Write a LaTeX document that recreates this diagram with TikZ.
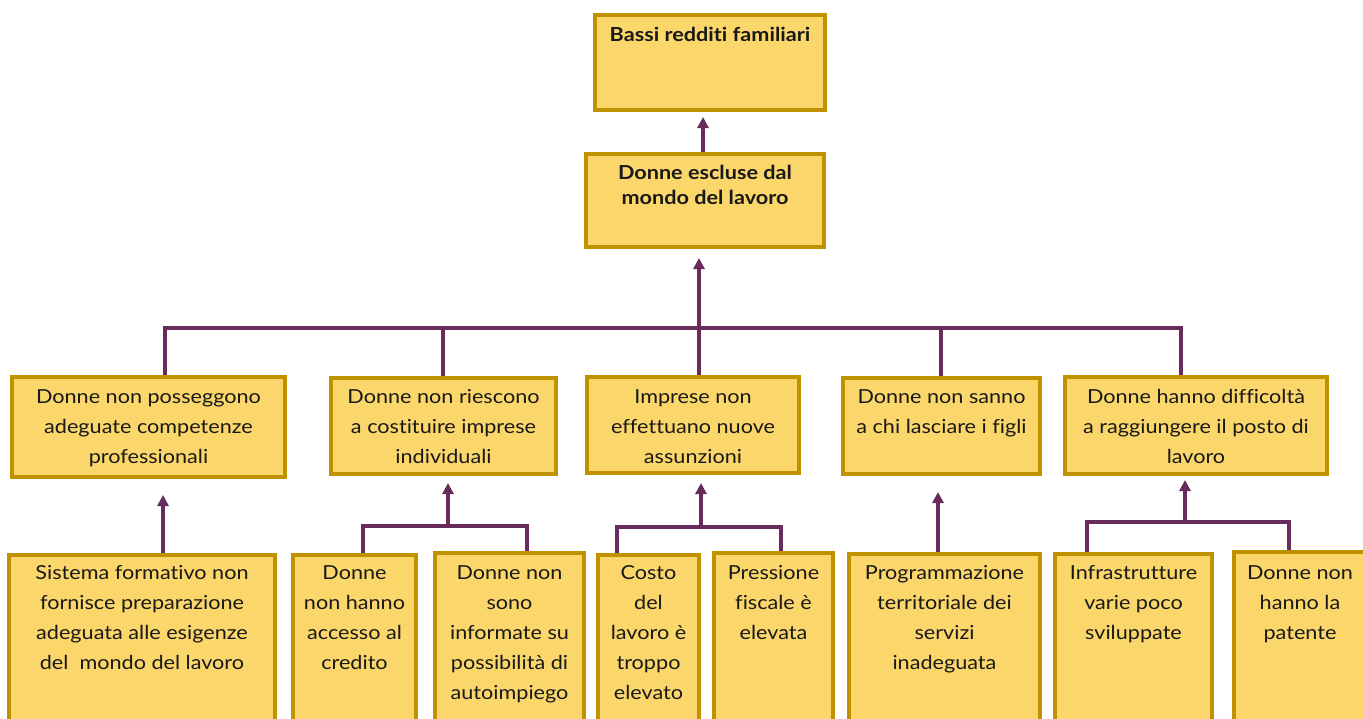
\documentclass[tikz,border=0pt]{standalone}
\usepackage{fontspec}
\setmainfont{Lato}[FakeStretch=1.12,Ligatures=CommonOff]
\usetikzlibrary{arrows.meta}
\definecolor{boxfill}{RGB}{251,214,106}
\definecolor{boxline}{RGB}{192,146,0}
\definecolor{conn}{RGB}{104,44,92}
\definecolor{txt}{RGB}{25,25,25}
\newcommand{\bt}[4]{\parbox[c][#2pt][t]{#1pt}{\centering\vspace*{#3pt}\strut #4\par}}
\begin{document}
\begin{tikzpicture}[x=1pt,y=-1pt,
  box/.style={draw=boxline, fill=boxfill, line width=4pt, inner sep=0pt, outer sep=2pt, text=txt},
  reg/.style={font=\fontsize{19.3}{30}\selectfont},
  bld/.style={font=\fontsize{19.3}{25}\selectfont\bfseries},
  link/.style={draw=conn, line width=3.2pt},
  arr/.style={link, -{Triangle[width=11pt,length=11pt]}}]
\useasboundingbox (0,0) rectangle (1363,718);
% top levels
\node[box,bld] (top) at (710,62.5) {\bt{230}{95}{8.5}{Bassi redditi familiari}};
\node[box,bld] (cause) at (705,200.5) {\bt{238}{93}{7.5}{Donne escluse dal\\mondo del lavoro}};
% level 2
\node[box,reg] (A) at (148.5,427) {\bt{273}{100}{5}{Donne non posseggono\\adeguate competenze\\professionali}};
\node[box,reg] (B) at (443.5,426) {\bt{225}{96}{4}{Donne non riescono\\a costituire imprese\\individuali}};
\node[box,reg] (C) at (693,425) {\bt{212}{96}{5}{Imprese non\\effettuano nuove\\assunzioni}};
\node[box,reg] (D) at (941.5,426) {\bt{197}{96}{4}{Donne non sanno\\a chi lasciare i figli}};
\node[box,reg] (E) at (1196,425.5) {\bt{262}{97}{5}{Donne hanno difficoltà\\a raggiungere il posto di\\lavoro}};
% level 3
\node[box,reg] (La) at (142,650) {\bt{266}{190}{3}{Sistema formativo non\\fornisce preparazione\\adeguata alle esigenze\\del\ \ mondo del lavoro}};
\node[box,reg] (Lb) at (354.5,650) {\bt{123}{190}{3}{Donne\\non hanno\\accesso al\\credito}};
\node[box,reg] (Lc) at (509.5,649) {\bt{149}{192}{5}{Donne non\\sono\\informate su\\possibilità di\\autoimpiego}};
\node[box,reg] (Ld) at (648.5,650) {\bt{101}{190}{3}{Costo\\del\\lavoro è\\troppo\\elevato}};
\node[box,reg] (Le) at (773.5,649) {\bt{119}{192}{5}{Pressione\\fiscale è\\elevata}};
\node[box,reg] (Lf) at (944.5,649.5) {\bt{191}{191}{4}{Programmazione\\territoriale dei\\servizi\\inadeguata}};
\node[box,reg] (Lg) at (1133.5,649.5) {\bt{157}{191}{4}{Infrastrutture\\varie poco\\sviluppate}};
\node[box,reg] (Lh) at (1300,648.5) {\bt{132}{193}{6}{Donne non\\hanno la\\patente}};
% coordinates
\coordinate (bar) at (0,328);
\coordinate (xA) at (165,0);
\coordinate (xB) at (443,0);
\coordinate (xC) at (699,0);
\coordinate (xD) at (941,0);
\coordinate (xE) at (1181,0);
\coordinate (xT) at (703,0);
\coordinate (barB) at (0,526);
\coordinate (xb1) at (363,0);
\coordinate (xb2) at (527,0);
\coordinate (xBa) at (448,0);
\coordinate (barC) at (0,527);
\coordinate (xd1) at (617,0);
\coordinate (xd2) at (781,0);
\coordinate (xCa) at (701,0);
\coordinate (barE) at (0,522);
\coordinate (xg1) at (1087,0);
\coordinate (xg2) at (1289,0);
\coordinate (xEa) at (1185,0);
\coordinate (xAa) at (163,0);
\coordinate (xDa) at (938,0);
% connectors
\draw[arr, shorten >=5pt] (cause.north -| xT) -- (top.south -| xT);
\draw[arr, shorten >=9pt] (C.north -| xC) -- (cause.south -| xC);
\draw[link] (A.north -| xA) -- (xA |- bar) -- (xE |- bar) -- (E.north -| xE);
\draw[link] (B.north -| xB) -- (xB |- bar);
\draw[link] (D.north -| xD) -- (xD |- bar);
\draw[arr, shorten >=16pt] (La.north -| xAa) -- (A.south -| xAa);
\draw[link] (Lb.north -| xb1) -- (xb1 |- barB) -- (xb2 |- barB) -- (Lc.north -| xb2);
\draw[arr, shorten >=7pt] (xBa |- barB) -- (B.south -| xBa);
\draw[link] (Ld.north -| xd1) -- (xd1 |- barC) -- (xd2 |- barC) -- (Le.north -| xd2);
\draw[arr, shorten >=8pt] (xCa |- barC) -- (C.south -| xCa);
\draw[arr, shorten >=16pt] (Lf.north -| xDa) -- (D.south -| xDa);
\draw[link] (Lg.north -| xg1) -- (xg1 |- barE) -- (xg2 |- barE) -- (Lh.north -| xg2);
\draw[arr, shorten >=4pt] (xEa |- barE) -- (E.south -| xEa);
\end{tikzpicture}
\end{document}
